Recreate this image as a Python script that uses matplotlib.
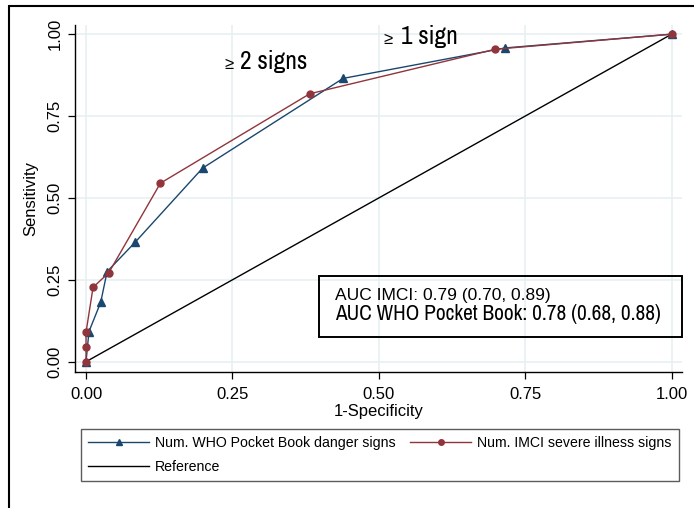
import matplotlib
matplotlib.use("Agg")
import matplotlib.pyplot as plt
from matplotlib import font_manager
from matplotlib.patches import Rectangle

# ROC points read per cut-off (1-specificity, sensitivity)
who_fpr = [0.0, 0.005, 0.025, 0.036, 0.084, 0.199, 0.439, 0.716, 1.0]
who_sens = [0.0, 0.092, 0.181, 0.275, 0.365, 0.591, 0.865, 0.958, 1.0]
imci_fpr = [0.0, 0.0, 0.0, 0.012, 0.039, 0.127, 0.382, 0.699, 1.0]
imci_sens = [0.0, 0.044, 0.090, 0.227, 0.272, 0.545, 0.818, 0.954, 1.0]
ref_x = [0.0, 1.0]
ref_y = [0.0, 1.0]
ticks = [0.0, 0.25, 0.5, 0.75, 1.0]
tick_labels = ["0.00", "0.25", "0.50", "0.75", "1.00"]

auc_imci = "AUC IMCI: 0.79 (0.70, 0.89)"
auc_who = "AUC WHO Pocket Book: 0.78 (0.68, 0.88)"

blue = "#1a476f"
red = "#90353b"
grid_c = "#e6eff1"

plt.rcParams["font.family"] = ["Liberation Sans", "DejaVu Sans"]

# condensed face for the big annotations, if one is installed
cond = sorted({f.name for f in font_manager.fontManager.ttflist
               if "Narrow" in f.name or "Condensed" in f.name})
if any("Liberation Sans Narrow" == n for n in cond):
    narrow = ["Liberation Sans Narrow", "DejaVu Sans"]
    big, sign_size = 15.5, 18
elif cond:
    narrow = [cond[0], "DejaVu Sans"]
    big, sign_size = 15.3, 18.3
else:
    narrow = ["Liberation Sans", "DejaVu Sans"]
    big, sign_size = 12.8, 16

fig = plt.figure(figsize=(6.94, 5.08), dpi=100)
ax = fig.add_axes([0.1081, 0.2677, 0.8746, 0.6831])

ax.set_xlim(-0.0188, 1.0176)
ax.set_ylim(-0.0315, 1.028)
ax.set_xticks(ticks)
ax.set_xticklabels(tick_labels)
ax.set_yticks(ticks)
ax.set_yticklabels(tick_labels, rotation=90, va="center")
ax.grid(True, color=grid_c, lw=1.1)
ax.set_axisbelow(True)
for s in ["top", "right"]:
    ax.spines[s].set_visible(False)
ax.spines["left"].set_linewidth(1.0)
ax.spines["bottom"].set_linewidth(1.0)
ax.tick_params(axis="both", labelsize=12, length=5, width=0.9)
ax.tick_params(axis="y", pad=4)
ax.tick_params(axis="x", pad=6)
ax.set_xlabel("1-Specificity", fontsize=12, labelpad=1)
ax.set_ylabel("Sensitivity", fontsize=12, labelpad=7)

l_who, = ax.plot(who_fpr, who_sens, color=blue, lw=1.0, marker="^", ms=5.5,
                 label="Num. WHO Pocket Book danger signs", zorder=3)
l_ref, = ax.plot(ref_x, ref_y, color="black", lw=1.0, label="Reference", zorder=2)
l_imci, = ax.plot(imci_fpr, imci_sens, color=red, lw=1.0, marker="o", ms=5,
                  label="Num. IMCI severe illness signs", zorder=4)

# cut-off annotations
ax.text(0.508, 0.971, "\u2265", fontsize=12, ha="left", va="baseline")
ax.text(0.537, 0.971, "1 sign", fontsize=sign_size, family=narrow,
        ha="left", va="baseline")
ax.text(0.236, 0.894, "\u2265", fontsize=12, ha="left", va="baseline")
ax.text(0.263, 0.894, "2 signs", fontsize=sign_size, family=narrow,
        ha="left", va="baseline")

# AUC box
ax.add_patch(Rectangle((0.397, 0.0754), 0.6206, 0.1866, transform=ax.transData,
                       fill=False, ec="black", lw=1.4, zorder=5, clip_on=False))
ax.text(0.4255, 0.2006, auc_imci, fontsize=12.5, ha="left", va="center", zorder=6)
ax.text(0.4255, 0.1457, auc_who, fontsize=big, family=narrow,
        ha="left", va="center", zorder=6)

leg = fig.legend([l_who, l_ref, l_imci],
                 [l_who.get_label(), l_ref.get_label(), l_imci.get_label()],
                 ncol=2, loc="upper left",
                 bbox_to_anchor=(81 / 694, 1 - 429 / 508),
                 fontsize=10.2, frameon=True, fancybox=False, handlelength=4.3,
                 handletextpad=0.45, columnspacing=1.0, labelspacing=0.68,
                 borderpad=0.5, borderaxespad=0, markerscale=0.8)
leg.get_frame().set_edgecolor("#333333")
leg.get_frame().set_linewidth(1.0)

# outer frame around the graph region
fig.patches.append(Rectangle((9 / 694, -0.1), 1.0, 1 - 6 / 508 + 0.1,
                             transform=fig.transFigure, fill=False,
                             ec="black", lw=1.5))

fig.savefig("out.png", dpi=100)
